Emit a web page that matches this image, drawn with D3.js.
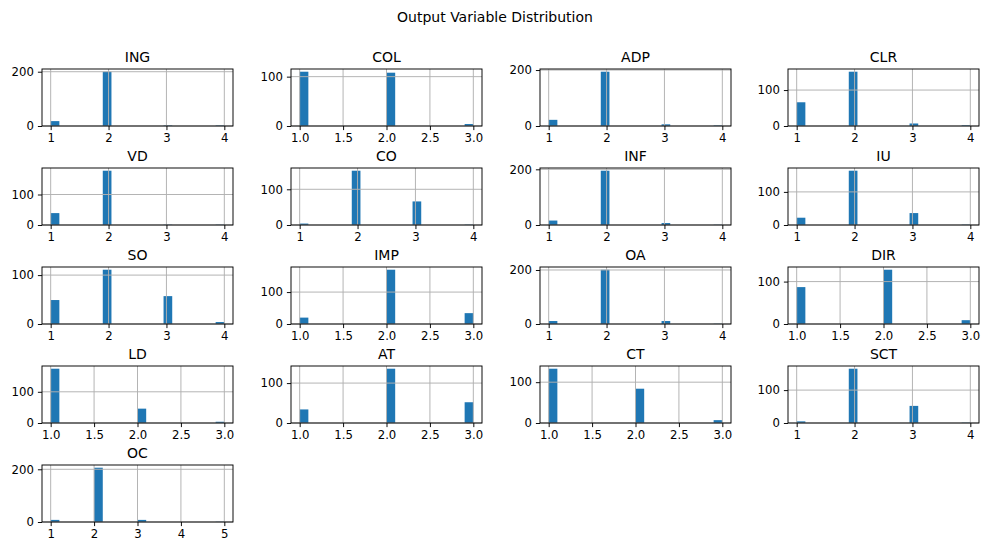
<!DOCTYPE html>
<html>
<head>
<meta charset="utf-8">
<script src="https://cdn.jsdelivr.net/npm/d3@7"></script>
<style>
  body { margin: 0; background: #fff; }
  svg { display: block; font-family: "DejaVu Sans", sans-serif; }
</style>
</head>
<body>
<svg id="chart" width="981" height="541"></svg>
<script>
// variables in the grid, row by row
const variables = ["ING", "COL", "ADP", "CLR", "VD", "CO", "INF", "IU", "SO", "IMP", "OA", "DIR", "LD", "AT", "CT", "SCT", "OC"];

// counts of each answer value, starting at value 1
const counts = [
  [18, 200, 2, 2],     // ING
  [110, 108, 4],       // COL
  [22, 194, 6, 2],     // ADP
  [66, 151, 7, 2],     // CLR
  [39, 178, 1, 1],     // VD
  [4, 152, 66, 1],     // CO
  [16, 195, 7, 1],     // INF
  [22, 164, 36, 1],    // IU
  [49, 111, 57, 4],    // SO
  [20, 170, 34],       // IMP
  [11, 201, 11, 1],    // OA
  [87, 128, 9],        // DIR
  [174, 46, 4],        // LD
  [34, 136, 52],       // AT
  [133, 84, 7],        // CT
  [5, 165, 52, 1],     // SCT
  [8, 206, 8, 0, 1]    // OC
];

// y tick values per panel
const yTicks = [
  [0, 200], [0, 100], [0, 200], [0, 100],
  [0, 100], [0, 100], [0, 200], [0, 100],
  [0, 100], [0, 100], [0, 200], [0, 100],
  [0, 100], [0, 100], [0, 100], [0, 100],
  [0, 200]
];

// x tick labels, chosen by the highest value
const ticksTo3 = ["1.0", "1.5", "2.0", "2.5", "3.0"];
const ticksTo4 = ["1", "2", "3", "4"];
const ticksTo5 = ["1", "2", "3", "4", "5"];

const nBins = 20;
const title = "Output Variable Distribution";

const svg = d3.select("#chart");

// grid layout (4 columns x 5 rows)
const colLeft = [42, 291, 540, 788];
const rowTop = [69, 168, 267, 366, 465];
const w = 191, h = 57;
const tickLen = 4.1, lw = 0.95;

svg.append("text")
  .attr("x", 495)
  .attr("y", 22)
  .attr("text-anchor", "middle")
  .style("font-size", "14px")
  .text(title);

variables.forEach((name, i) => {
  const c = counts[i];
  const vmin = 1, vmax = c.length;
  const xLabels = vmax === 3 ? ticksTo3 : (vmax === 5 ? ticksTo5 : ticksTo4);

  // numpy-like histogram with 20 equal bins over [min, max]
  const bw = (vmax - vmin) / nBins;
  const bins = d3.range(nBins).map(k => ({x0: vmin + k * bw, x1: vmin + (k + 1) * bw, n: 0}));
  c.forEach((n, j) => {
    const v = vmin + j;
    let k = Math.floor((v - vmin) / (vmax - vmin) * nBins);
    if (k >= nBins) k = nBins - 1;
    bins[k].n += n;
  });

  const pad = 0.05 * (vmax - vmin);
  const x = d3.scaleLinear().domain([vmin - pad, vmax + pad]).range([0, w]);
  const y = d3.scaleLinear().domain([0, d3.max(bins, b => b.n) * 1.05]).range([h, 0]);

  const g = svg.append("g")
    .attr("transform", `translate(${colLeft[i % 4]},${rowTop[Math.floor(i / 4)]})`);

  // bars
  g.selectAll("rect.bar")
    .data(bins)
    .join("rect")
      .attr("class", "bar")
      .attr("x", d => x(d.x0))
      .attr("width", d => x(d.x1) - x(d.x0))
      .attr("y", d => y(d.n))
      .attr("height", d => h - y(d.n))
      .attr("fill", "#1f77b4");

  const xVals = xLabels.map(Number);

  // grid on top of the bars, like matplotlib
  g.selectAll("line.xgrid")
    .data(xVals)
    .join("line")
      .attr("x1", d => x(d)).attr("x2", d => x(d))
      .attr("y1", 0).attr("y2", h)
      .attr("stroke", "#b0b0b0").attr("stroke-width", lw);
  g.selectAll("line.ygrid")
    .data(yTicks[i])
    .join("line")
      .attr("x1", 0).attr("x2", w)
      .attr("y1", d => y(d)).attr("y2", d => y(d))
      .attr("stroke", "#b0b0b0").attr("stroke-width", lw);

  // axes
  const xAxis = d3.axisBottom(x).tickValues(xVals)
    .tickFormat((d, k) => xLabels[k]).tickSizeInner(tickLen).tickSizeOuter(0).tickPadding(4);
  const yAxis = d3.axisLeft(y).tickValues(yTicks[i])
    .tickSizeInner(tickLen).tickSizeOuter(0).tickPadding(4);

  const gx = g.append("g").attr("transform", `translate(0,${h})`).call(xAxis);
  const gy = g.append("g").call(yAxis);
  [gx, gy].forEach(a => {
    a.select(".domain").remove();
    a.selectAll("text").style("font-size", "11.7px").attr("fill", "#000")
      .style("font-family", "DejaVu Sans, sans-serif");
    a.selectAll("line").attr("stroke", "#000").attr("stroke-width", lw);
  });

  // frame
  g.append("rect")
    .attr("width", w).attr("height", h)
    .attr("fill", "none").attr("stroke", "#000").attr("stroke-width", lw);

  g.append("text")
    .attr("x", w / 2).attr("y", -7)
    .attr("text-anchor", "middle")
    .style("font-size", "14px")
    .text(name);
});
</script>
</body>
</html>
